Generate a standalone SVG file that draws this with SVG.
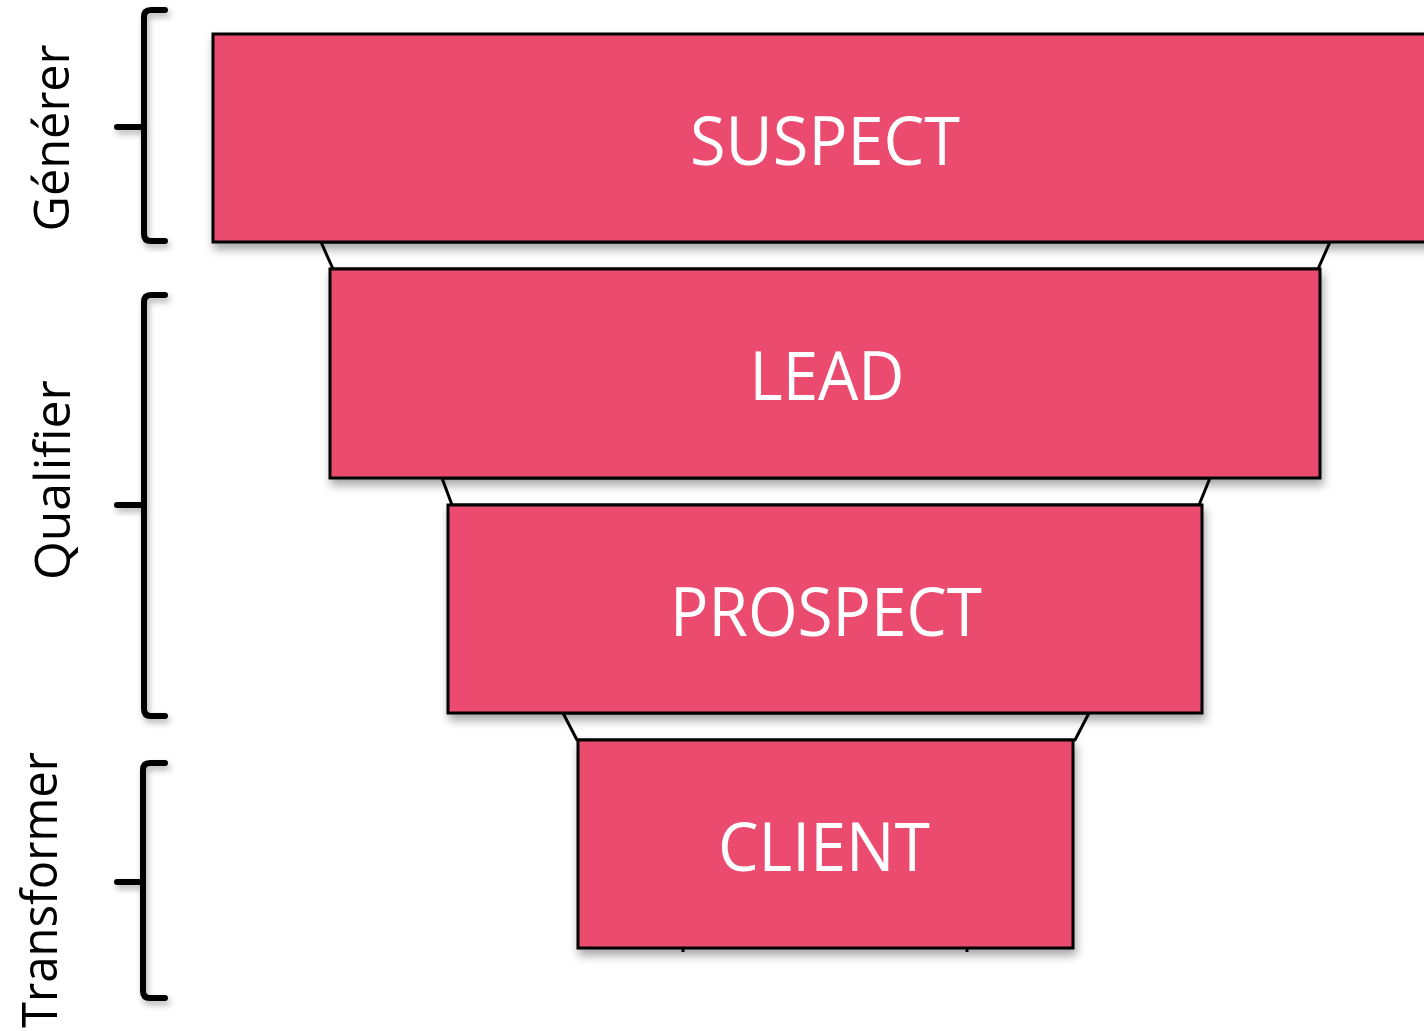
<svg xmlns="http://www.w3.org/2000/svg" width="1424" height="1031" viewBox="0 0 1424 1031">
<style>
.box{fill:#EA4C6E;stroke:#000;stroke-width:3;filter:url(#sh)}
.lbl{font-family:"Open Sans","Liberation Sans",Arial,sans-serif;font-size:68px;fill:#fff;text-anchor:middle}
.side{font-family:"Open Sans","Liberation Sans",Arial,sans-serif;font-size:50px;fill:#000;text-anchor:middle}
.br{fill:none;stroke:#000;stroke-width:6;stroke-linecap:round;stroke-linejoin:round;filter:url(#sh2)}
.tr{fill:#fff;stroke:#000;stroke-width:3;stroke-linejoin:round}
</style>
<defs>
<filter id="sh" x="-5%" y="-10%" width="115%" height="130%">
<feDropShadow dx="2" dy="6" stdDeviation="5" flood-color="#000" flood-opacity="0.35"/>
</filter>
<filter id="sh2" x="-50%" y="-10%" width="200%" height="120%">
<feDropShadow dx="2" dy="4" stdDeviation="3" flood-color="#000" flood-opacity="0.3"/>
</filter>
</defs>
<rect width="1424" height="1031" fill="#fff"/>
<g id="connectors">
<polygon class="tr" points="321,242 333,269 1318,269 1330,242"/>
<polygon class="tr" points="442,478 452,505 1199,505 1210,478"/>
<polygon class="tr" points="563,713 577,740 1075,740 1089,713"/>
<line x1="683" y1="946" x2="683" y2="952" stroke="#000" stroke-width="3"/>
<line x1="967" y1="946" x2="967" y2="952" stroke="#000" stroke-width="3"/>
</g>
<g id="node-suspect">
<rect class="box" x="213" y="34" width="1220" height="208"/>
<text class="lbl" x="825" y="165" textLength="270" lengthAdjust="spacingAndGlyphs">SUSPECT</text>
</g>
<g id="node-lead">
<rect class="box" x="330" y="269" width="990" height="209"/>
<text class="lbl" x="827" y="400" textLength="155" lengthAdjust="spacingAndGlyphs">LEAD</text>
</g>
<g id="node-prospect">
<rect class="box" x="448" y="505" width="754" height="208"/>
<text class="lbl" x="826" y="636" textLength="312" lengthAdjust="spacingAndGlyphs">PROSPECT</text>
</g>
<g id="node-client">
<rect class="box" x="578" y="740" width="495" height="208"/>
<text class="lbl" x="824" y="871" textLength="212" lengthAdjust="spacingAndGlyphs">CLIENT</text>
</g>
<g id="bracket-generer">
<path class="br" d="M165,10 H151 Q144,10 144,17 V234 Q144,241 151,241 H165 M117,127 H144"/>
<text class="side" transform="translate(69,138) rotate(-90)" textLength="187" lengthAdjust="spacingAndGlyphs">Générer</text>
</g>
<g id="bracket-qualifier">
<path class="br" d="M165,295 H151 Q144,295 144,302 V709 Q144,716 151,716 H165 M117,505 H144"/>
<text class="side" transform="translate(70,480) rotate(-90)" textLength="200" lengthAdjust="spacingAndGlyphs">Qualifier</text>
</g>
<g id="bracket-transformer">
<path class="br" d="M165,763 H150 Q143,763 143,770 V991 Q143,998 150,998 H165 M117,882 H143"/>
<text class="side" transform="translate(57,890) rotate(-90)" textLength="276" lengthAdjust="spacingAndGlyphs">Transformer</text>
</g>
</svg>
